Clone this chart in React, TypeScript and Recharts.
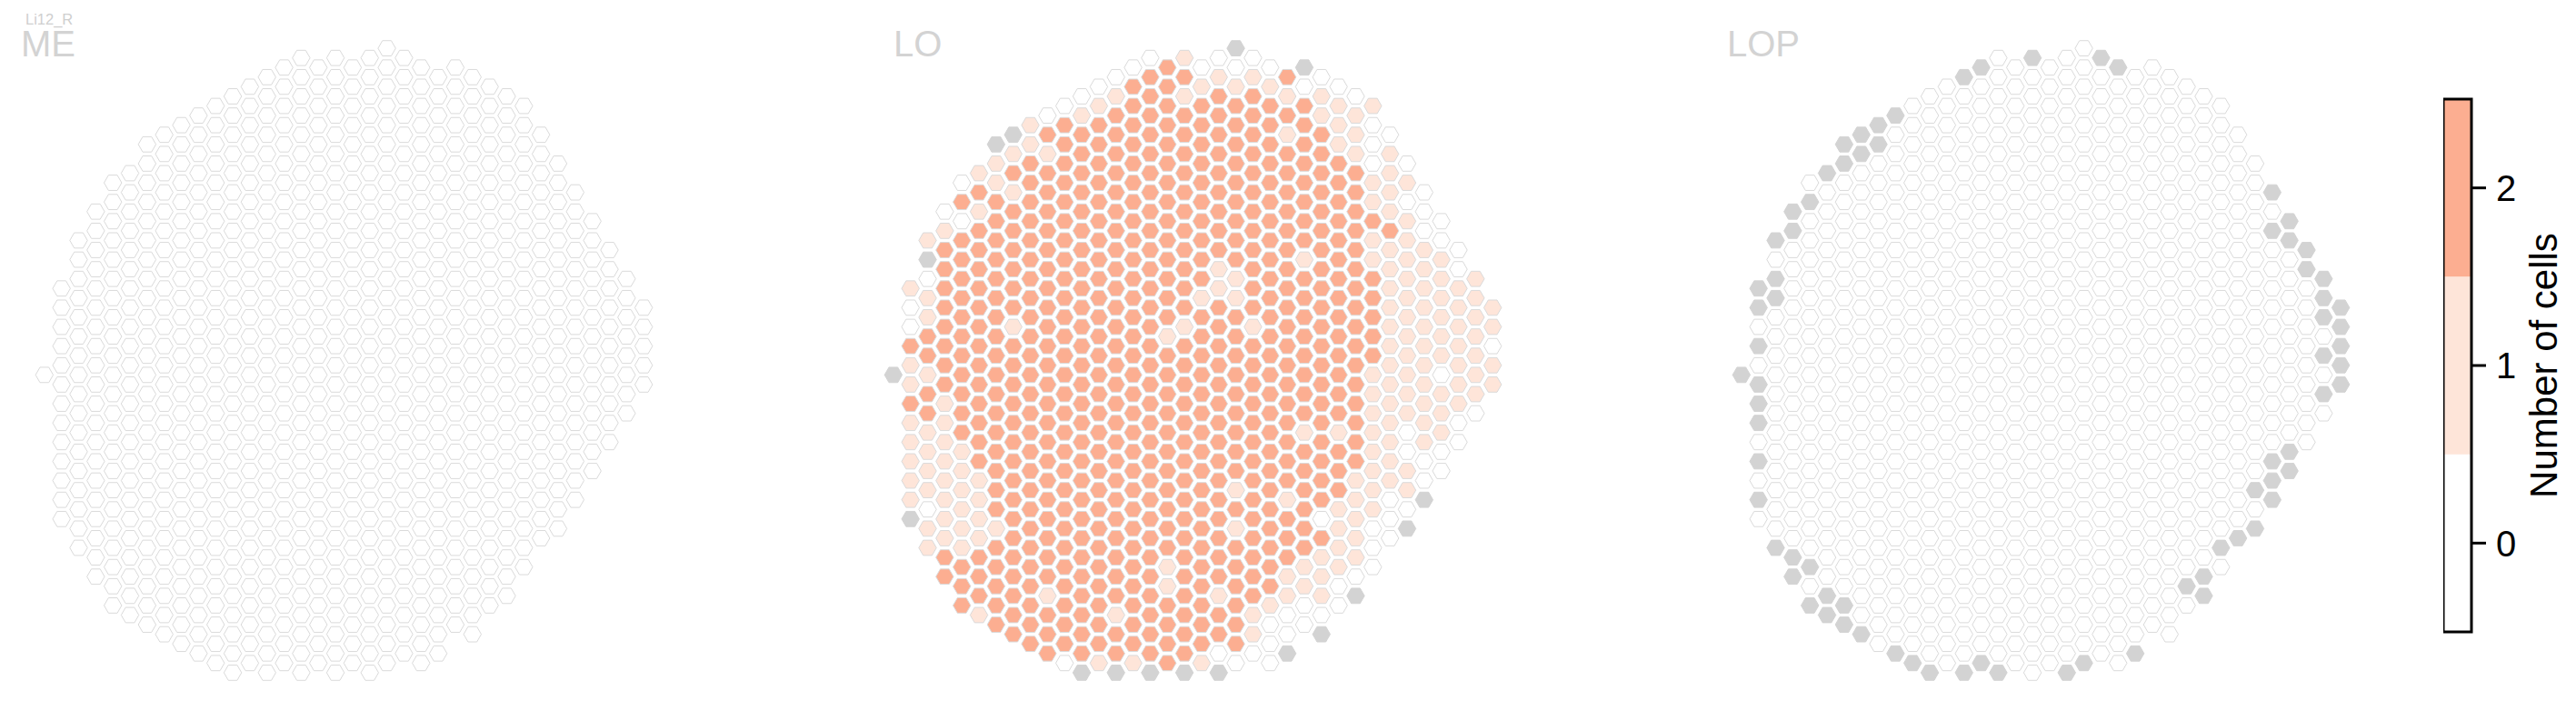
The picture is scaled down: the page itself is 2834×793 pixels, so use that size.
import { ScatterChart, Scatter, XAxis, YAxis, ComposedChart, ReferenceArea } from 'recharts'

// hex columns of the eye map, left to right, and the half-row of each column's top hex
const COLUMN_IDS = [-20, -19, -18, -17, -16, -15, -14, -13, -12, -11, -10, -9, -8, -7, -6, -5, -4, -3, -2, -1, 0, 1, 2, 3, 4, 5, 6, 7, 8, 9, 10, 11, 12, 13, 14, 15]
const COLUMN_TOP_ROW = [34, 25, 20, 17, 14, 13, 10, 9, 8, 7, 6, 5, 4, 3, 2, 1, 2, 1, 2, 1, 0, 1, 2, 3, 2, 3, 4, 5, 6, 9, 12, 15, 18, 21, 24, 27]

// cell counts per hex, top to bottom in each column ("v*n" = n hexes with value v, x = no data)
const ME_CELLS = [
  '0', '0*13', '0*17', '0*20', '0*23', '0*24', '0*26', '0*27', '0*28', '0*29', '0*30', '0*31',
  '0*31', '0*32', '0*32', '0*33', '0*32', '0*33', '0*32', '0*33', '0*33', '0*32', '0*32', '0*31',
  '0*30', '0*30', '0*28', '0*27', '0*25', '0*22', '0*20', '0*17', '0*14', '0*11', '0*8', '0*5',
]

const LO_CELLS = [
  'x',
  '1 0*2 2 1*2 2 1*5 x',
  '1 x 0 1*2 2*2 1 2*2 1*4 0 1*2',
  '0 1 2*8 1*8 2*2',
  '0 2 0 2*11 1*6 2*3',
  '1 2 1 2*13 1*4 2*3 1',
  'x 1*2 2*17 1 2*5',
  'x 1 2 1 2*6 1 2*16',
  '1*2 2*26',
  '0 2 1 2*22 1 2*3',
  '0 2*28 0',
  '0 1 2*28 x',
  '0 1 2*28 1',
  '0 1 2*26 1 2*2 x',
  '0 2*30 1',
  '0 2*31 x',
  '2*14 1 2*11 1*2 2*4',
  '1 2 1 2*11 1 2*17 x',
  '0 1 2*10 1 2*18 1',
  '0 1 2*9 1*2 2*15 1 2*2 0 x',
  'x 0 1 2*9 1*2 2*9 1 2 1 2*6 0',
  '0 1 2*12 1 2*14 1*2 0',
  '0 1 2*26 1 0*3',
  '2 1 2 1 2*18 1 2*3 1*2 0*2 x',
  'x 0 2*8 1 2*8 1 2*6 1*2 0*2',
  '0 1*2 2*20 0 2 1*3 0 x',
  '0 1*3 2*14 1 2*3 1*4 0*2',
  '0 1*3 2*16 1*5 0 x',
  '1 0*3 1*2 2 1*2 2*5 1*8 0*3',
  '0 1*4 2 1*13 0*3',
  '0 1 0 1*11 0*2 1*2 0 x',
  '0*3 1*11 0*2 x',
  '0*2 1*6 0 1*3 0*2',
  '0*2 1*7 0*2',
  '1*7 0',
  '1*2 0 1*2',
]

const LOP_CELLS = [
  'x',
  'x*2 0 x 0 x*3 0 x 0 x 0',
  'x 0 x*2 0*12 x',
  'x*2 0*16 x*2',
  '0 x 0*18 x 0 x',
  'x 0*21 x*2',
  'x*2 0*22 x*2',
  'x*2 0*24 x',
  'x*2 0*26',
  'x 0*27 x',
  '0*29 x',
  '0*30 x',
  '0*31',
  'x 0*30 x',
  'x 0*30 x',
  '0*32 x',
  '0*32',
  'x 0*32',
  '0*32',
  '0*32 x',
  '0*32 x',
  'x 0*31',
  'x 0*31',
  '0*30 x',
  '0*30',
  '0*30',
  '0*26 x 0',
  '0*25 x*2',
  '0*23 x 0',
  '0*21 x',
  '0*17 x 0 x',
  'x 0 x 0*11 x*3',
  'x*2 0*10 x*2',
  'x*2 0*9',
  'x*3 0 x 0 x 0',
  'x*5',
]

const PANEL_TITLES = ['ME', 'LO', 'LOP']
const PANEL_CELLS = [ME_CELLS, LO_CELLS, LOP_CELLS]
const PANEL_LEFT = [30.4, 963.7, 1896.9]
const TITLE_X = [23, 983, 1900]

const COLORBAR_TICKS = [0, 1, 2]
const COLORBAR_COLORS = ['#ffffff', '#fee5d9', '#fcae91']
const MISSING_COLOR = '#d3d3d3'
const FONT = '"Liberation Sans", Arial, Helvetica, sans-serif'

const HEX_R = 9.7

function decode(code: string): string[] {
  const out: string[] = []
  for (const tok of code.split(' ')) {
    const [v, n] = tok.split('*')
    const count = n ? Number(n) : 1
    for (let i = 0; i < count; i++) out.push(v)
  }
  return out
}

function buildCells(codes: string[]) {
  const pts: { x: number; y: number; v: string }[] = []
  codes.forEach((code, i) => {
    decode(code).forEach((v, j) => {
      pts.push({ x: COLUMN_IDS[i], y: COLUMN_TOP_ROW[i] + 2 * j, v })
    })
  })
  return pts
}

// eslint-disable-next-line @typescript-eslint/no-explicit-any
const renderHex = (props: any) => {
  const { cx, cy, payload } = props
  if (cx == null || cy == null) return <g />
  const v = payload.v
  const fill = v === 'x' ? MISSING_COLOR : COLORBAR_COLORS[Number(v)]
  const stroke = v === 'x' ? MISSING_COLOR : '#dadada'
  const pts = [0, 1, 2, 3, 4, 5]
    .map((k) => {
      const a = (Math.PI / 3) * k
      return `${(cx + HEX_R * Math.cos(a)).toFixed(2)},${(cy + HEX_R * Math.sin(a)).toFixed(2)}`
    })
    .join(' ')
  return <polygon points={pts} fill={fill} stroke={stroke} strokeWidth={1} />
}

function HexPanel({ cells, left }: { cells: string[]; left: number }) {
  const data = buildCells(cells)
  return (
    <div style={{ position: 'absolute', left, top: 31.57 }}>
      <ScatterChart width={697} height={729} margin={{ top: 0, right: 0, bottom: 0, left: 0 }}>
        <XAxis type="number" dataKey="x" domain={[-21, 16]} hide allowDataOverflow />
        <YAxis type="number" dataKey="y" domain={[-2, 67]} reversed hide allowDataOverflow />
        <Scatter data={data} shape={renderHex} isAnimationActive={false} />
      </ScatterChart>
    </div>
  )
}

function Colorbar() {
  return (
    <div style={{ position: 'absolute', left: 2688, top: 0 }}>
      <ComposedChart width={146} height={793} data={[{ k: 0 }]} margin={{ top: 109, right: 0, bottom: 98, left: 0 }}>
        <XAxis dataKey="k" hide />
        <YAxis
          orientation="right"
          type="number"
          domain={[-0.5, 2.5]}
          ticks={COLORBAR_TICKS}
          width={115}
          axisLine={false}
          tickSize={16}
          tickMargin={11}
          tickLine={{ stroke: '#000', strokeWidth: 3 }}
          tick={{ fill: '#000', fontSize: 40, fontFamily: FONT }}
          allowDataOverflow
        />
        {COLORBAR_TICKS.map((v) => (
          <ReferenceArea key={v} y1={v - 0.5} y2={v + 0.5} fill={COLORBAR_COLORS[v]} fillOpacity={1} stroke="none" ifOverflow="visible" />
        ))}
        <ReferenceArea y1={-0.5} y2={2.5} fill="none" fillOpacity={0} stroke="#000" strokeWidth={3} ifOverflow="visible" />
      </ComposedChart>
    </div>
  )
}

export default function App() {
  return (
    <div style={{ position: 'absolute', left: 0, top: 0, width: 2834, height: 793, background: '#fff', overflow: 'hidden' }}>
      {PANEL_CELLS.map((cells, i) => (
        <HexPanel key={PANEL_TITLES[i]} cells={cells} left={PANEL_LEFT[i]} />
      ))}
      <Colorbar />
      <svg width={2834} height={793} style={{ position: 'absolute', left: 0, top: 0, pointerEvents: 'none' }}>
        <text x={28} y={27} fontSize={16.5} fill="#cfcfcf" fontFamily={FONT}>Li12_R</text>
        {PANEL_TITLES.map((t, i) => (
          <text key={t} x={TITLE_X[i]} y={62} fontSize={40} fill="#d3d3d3" fontFamily={FONT}>{t}</text>
        ))}
        <text x={2813} y={402} fontSize={42} fill="#000" fontFamily={FONT} textAnchor="middle" transform="rotate(-90 2813 402)">
          Number of cells
        </text>
      </svg>
    </div>
  )
}
